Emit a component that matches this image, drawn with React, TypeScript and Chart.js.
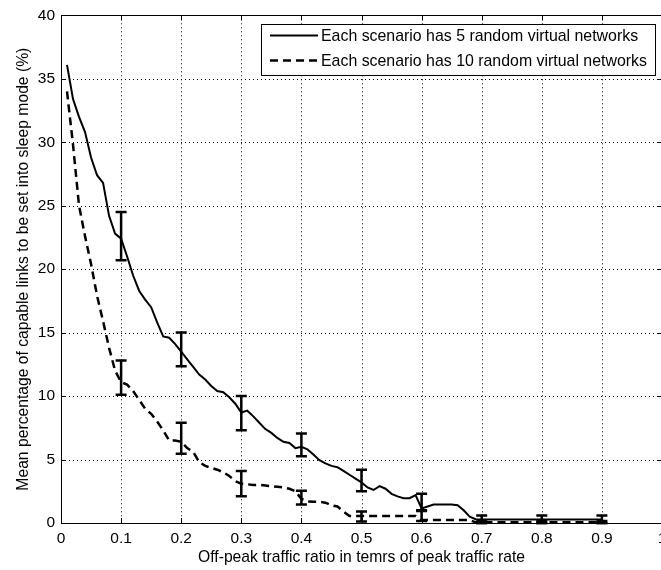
import { useEffect, useRef } from "react";
import { Chart, registerables } from "chart.js";

Chart.register(...registerables);

// Off-peak traffic ratio samples (0.01 … 0.90)
const ratio: number[] = Array.from({ length: 90 }, (_, i) => (i + 1) / 100);

// Mean percentage of links that can sleep, 5 virtual networks per scenario
const fiveVN: number[] = [
  36.1, 33.4, 32.0, 30.8, 28.8, 27.4, 26.8, 24.2, 22.8, 22.4,
  21.0, 19.5, 18.3, 17.6, 17.0, 15.8, 14.7, 14.6, 14.1, 13.5,
  12.9, 12.3, 11.7, 11.3, 10.8, 10.4, 10.3, 9.9, 9.4, 8.7,
  8.85, 8.4, 7.9, 7.4, 7.1, 6.7, 6.4, 6.3, 5.9, 6.0,
  5.8, 5.4, 4.95, 4.7, 4.5, 4.4, 4.1, 3.8, 3.5, 3.2,
  2.8, 2.6, 2.9, 2.7, 2.3, 2.1, 1.95, 1.95, 2.2, 1.15,
  1.3, 1.45, 1.45, 1.45, 1.45, 1.4, 1.0, 0.5, 0.3, 0.28,
  0.28, 0.28, 0.28, 0.28, 0.28, 0.28, 0.28, 0.28, 0.28, 0.28,
  0.28, 0.28, 0.28, 0.28, 0.28, 0.28, 0.28, 0.28, 0.28, 0.28,
];

// Mean percentage of links that can sleep, 10 virtual networks per scenario
const tenVN: number[] = [
  34.0, 29.8, 25.0, 22.6, 20.4, 17.9, 15.9, 13.8, 12.0, 11.1,
  10.9, 10.4, 9.7, 9.0, 8.6, 8.0, 7.3, 6.5, 6.5, 6.4,
  5.9, 5.6, 4.8, 4.5, 4.35, 4.2, 4.0, 3.7, 3.3, 3.1,
  3.05, 3.0, 3.0, 2.95, 2.9, 2.85, 2.8, 2.7, 2.5, 1.9,
  1.7, 1.67, 1.67, 1.6, 1.4, 1.3, 0.9, 0.55, 0.55, 0.55,
  0.55, 0.55, 0.55, 0.55, 0.55, 0.55, 0.55, 0.55, 0.55, 0.24,
  0.24, 0.24, 0.24, 0.24, 0.24, 0.24, 0.24, 0.24, 0.05, 0.05,
  0.05, 0.05, 0.05, 0.05, 0.05, 0.05, 0.05, 0.05, 0.05, 0.05,
  0.05, 0.05, 0.05, 0.05, 0.05, 0.05, 0.05, 0.05, 0.05, 0.05,
];

// Error bar positions and extents
const barRatio: number[] = [0.1, 0.2, 0.3, 0.4, 0.5, 0.6, 0.7, 0.8, 0.9];
const fiveLow: number[] = [20.7, 12.35, 7.3, 5.25, 2.5, 0.95, 0.0, 0.0, 0.0];
const fiveHigh: number[] = [24.5, 15.0, 10.0, 7.05, 4.2, 2.3, 0.6, 0.6, 0.6];
const tenLow: number[] = [10.1, 5.45, 2.1, 1.45, 0.12, 0.15, 0.0, 0.0, 0.0];
const tenHigh: number[] = [12.8, 7.9, 4.1, 2.55, 0.9, 1.0, 0.15, 0.15, 0.15];

const seriesLabels: string[] = [
  "Each scenario has 5 random virtual networks",
  "Each scenario has 10 random virtual networks",
];

const xTitle = "Off-peak traffic ratio in temrs of peak traffic rate";
const yTitle = "Mean percentage of capable links to be set into sleep mode (%)";

const FONT = '"Liberation Sans", Arial, Helvetica, sans-serif';
const LEGEND_SIZE = 15.9;

// Dotted grid, inward tick marks and the surrounding box
const framePlugin = {
  id: "frame",
  beforeDatasetsDraw(chart: any) {
    const { ctx, chartArea, scales } = chart;
    const { left, right, top, bottom } = chartArea;
    ctx.save();
    ctx.strokeStyle = "#000";
    ctx.lineWidth = 1;
    ctx.setLineDash([1, 3]);
    scales.x.ticks.forEach((t: any) => {
      const px = Math.round(scales.x.getPixelForValue(t.value)) + 0.5;
      if (px <= left + 1 || px >= right - 1) return;
      ctx.beginPath();
      ctx.moveTo(px, top);
      ctx.lineTo(px, bottom);
      ctx.stroke();
    });
    scales.y.ticks.forEach((t: any) => {
      const py = Math.round(scales.y.getPixelForValue(t.value)) + 0.5;
      if (py <= top + 1 || py >= bottom - 1) return;
      ctx.beginPath();
      ctx.moveTo(left, py);
      ctx.lineTo(right, py);
      ctx.stroke();
    });
    ctx.setLineDash([]);
    const tl = 5;
    scales.x.ticks.forEach((t: any) => {
      const px = Math.round(scales.x.getPixelForValue(t.value)) + 0.5;
      ctx.beginPath();
      ctx.moveTo(px, bottom);
      ctx.lineTo(px, bottom - tl);
      ctx.moveTo(px, top);
      ctx.lineTo(px, top + tl);
      ctx.stroke();
    });
    scales.y.ticks.forEach((t: any) => {
      const py = Math.round(scales.y.getPixelForValue(t.value)) + 0.5;
      ctx.beginPath();
      ctx.moveTo(left, py);
      ctx.lineTo(left + tl, py);
      ctx.moveTo(right, py);
      ctx.lineTo(right - tl, py);
      ctx.stroke();
    });
    ctx.strokeRect(Math.round(left) + 0.5, Math.round(top) + 0.5, Math.round(right - left), Math.round(bottom - top));
    ctx.restore();
  },
};

// Vertical error bars with caps
const errorBarPlugin = {
  id: "errorBars",
  afterDatasetsDraw(chart: any) {
    const { ctx, scales } = chart;
    const cap = 5.5;
    const sets = [
      [fiveLow, fiveHigh],
      [tenLow, tenHigh],
    ];
    ctx.save();
    ctx.strokeStyle = "#000";
    ctx.lineWidth = 2.5;
    ctx.setLineDash([]);
    sets.forEach(([lo, hi]) => {
      barRatio.forEach((r, i) => {
        const px = scales.x.getPixelForValue(r);
        const y0 = scales.y.getPixelForValue(lo[i]);
        const y1 = scales.y.getPixelForValue(hi[i]);
        ctx.beginPath();
        ctx.moveTo(px, y0);
        ctx.lineTo(px, y1);
        ctx.moveTo(px - cap, y0);
        ctx.lineTo(px + cap, y0);
        ctx.moveTo(px - cap, y1);
        ctx.lineTo(px + cap, y1);
        ctx.stroke();
      });
    });
    ctx.restore();
  },
};

// Boxed legend in the upper right of the plot area
const boxLegendPlugin = {
  id: "boxLegend",
  afterDraw(chart: any) {
    const { ctx, chartArea } = chart;
    const datasets = chart.data.datasets;
    ctx.save();
    ctx.font = `${LEGEND_SIZE}px ${FONT}`;
    const textW = Math.max(...datasets.map((d: any) => ctx.measureText(d.label).width));
    const sample = 48;
    const w = Math.round(9 + sample + 3 + textW + 8);
    const h = 51;
    const right = Math.round(chartArea.right) - 7;
    const left = right - w;
    const top = Math.round(chartArea.top) + 9;
    ctx.fillStyle = "#fff";
    ctx.fillRect(left, top, w, h);
    ctx.strokeStyle = "#000";
    ctx.lineWidth = 1;
    ctx.strokeRect(left + 0.5, top + 0.5, w, h);
    datasets.forEach((d: any, i: number) => {
      const y = top + 11.5 + i * 25;
      ctx.setLineDash(d.borderDash || []);
      ctx.lineWidth = d.borderWidth;
      ctx.strokeStyle = d.borderColor;
      ctx.beginPath();
      ctx.moveTo(left + 9, y);
      ctx.lineTo(left + 9 + sample, y);
      ctx.stroke();
      ctx.setLineDash([]);
      ctx.fillStyle = "#000";
      ctx.textBaseline = "middle";
      ctx.textAlign = "left";
      ctx.fillText(d.label, left + 9 + sample + 3, y + 1);
    });
    ctx.restore();
  },
};

export default function App() {
  const canvasRef = useRef<HTMLCanvasElement>(null);

  useEffect(() => {
    const canvas = canvasRef.current;
    if (!canvas) return;
    const chart = new Chart(canvas, {
      type: "line",
      data: {
        datasets: [
          {
            label: seriesLabels[0],
            data: ratio.map((x, i) => ({ x, y: fiveVN[i] })),
            borderColor: "#000",
            borderWidth: 2,
            pointRadius: 0,
            tension: 0,
            fill: false,
          },
          {
            label: seriesLabels[1],
            data: ratio.map((x, i) => ({ x, y: tenVN[i] })),
            borderColor: "#000",
            borderWidth: 2.5,
            borderDash: [8, 5],
            pointRadius: 0,
            tension: 0,
            fill: false,
          },
        ],
      },
      options: {
        responsive: false,
        animation: false,
        events: [],
        layout: { padding: { top: 13, right: 18, left: 0, bottom: 0 } },
        plugins: {
          legend: { display: false },
          tooltip: { enabled: false },
        },
        scales: {
          x: {
            type: "linear",
            min: 0,
            max: 1,
            grid: { display: false, drawTicks: false },
            border: { display: false },
            afterFit: (scale: any) => {
              scale.height = 47;
            },
            ticks: {
              stepSize: 0.1,
              autoSkip: false,
              maxRotation: 0,
              padding: 6,
              color: "#000",
              font: { family: FONT, size: 15.5 },
              callback: (v: any) => String(Math.round(Number(v) * 10) / 10),
            },
            title: {
              display: true,
              text: xTitle,
              color: "#000",
              font: { family: FONT, size: 15.7 },
              padding: { top: 0, bottom: 3 },
            },
          },
          y: {
            min: 0,
            max: 40,
            grid: { display: false, drawTicks: false },
            border: { display: false },
            afterFit: (scale: any) => {
              scale.width = 61;
            },
            ticks: {
              stepSize: 5,
              padding: 6,
              color: "#000",
              font: { family: FONT, size: 15.5 },
            },
            title: {
              display: true,
              text: yTitle,
              color: "#000",
              font: { family: FONT, size: 15.7 },
              padding: { top: 14, bottom: 0 },
            },
          },
        },
      },
      plugins: [framePlugin, errorBarPlugin, boxLegendPlugin],
    });
    return () => chart.destroy();
  }, []);

  return (
    <div
      style={{
        position: "absolute",
        left: 0,
        top: 0,
        width: 661,
        height: 570,
        overflow: "hidden",
        background: "#fff",
      }}
    >
      <canvas ref={canvasRef} width={680} height={570} style={{ display: "block" }} />
    </div>
  );
}
